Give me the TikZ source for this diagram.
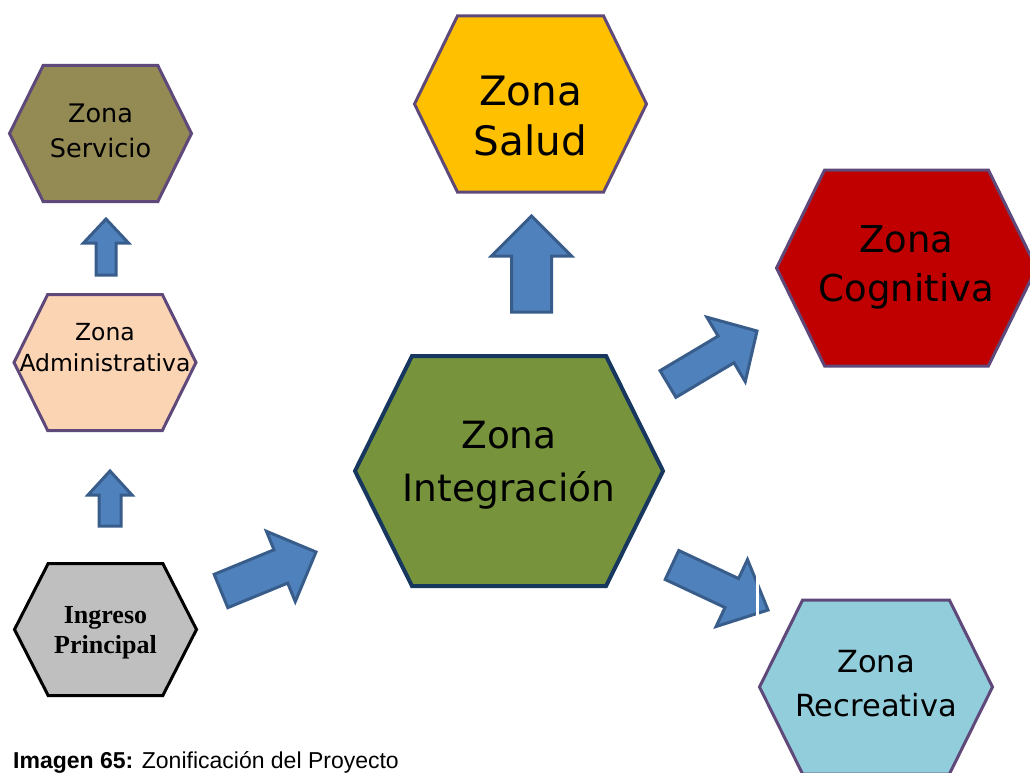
\documentclass[tikz,border=0pt]{standalone}
\usepackage{fontspec}
\setmainfont{Liberation Sans}
\newfontfamily\handfont{DejaVu Sans}
\newfontfamily\serifbold{Liberation Serif}
\usetikzlibrary{calc}
\definecolor{hexpurple}{HTML}{5F497A}
\definecolor{servfill}{HTML}{948A54}
\definecolor{adminfill}{HTML}{FBD4B4}
\definecolor{ingfill}{HTML}{BFBFBF}
\definecolor{saludfill}{HTML}{FFC000}
\definecolor{cogfill}{HTML}{C00000}
\definecolor{recfill}{HTML}{92CDDC}
\definecolor{intfill}{HTML}{77933C}
\definecolor{intborder}{HTML}{17375E}
\definecolor{arrowfill}{HTML}{4F81BD}
\definecolor{arrowborder}{HTML}{385D8A}
\tikzset{
  hexbox/.style={fill=#1, draw=hexpurple, line width=3pt, line join=miter},
  barrow/.style={fill=arrowfill, draw=arrowborder, line width=3pt, line join=miter},
  label/.style={align=center, inner sep=0pt, text=black},
}
\newcommand\hexshape[6]{%
  \path[#6] ({#2-#4},#3) -- ({#2-0.63*#4},{#3-#5}) -- ({#2+0.63*#4},{#3-#5}) -- ({#2+#4},#3)
    -- ({#2+0.63*#4},{#3+#5}) -- ({#2-0.63*#4},{#3+#5}) -- cycle;
  \coordinate (#1) at (#2,#3);}
\newcommand\blockarrow[5]{%
  \coordinate (ba-h) at ($(#2)!#5pt!(#1)$);
  \draw[barrow] ($(#1)!#3pt!90:(#2)$) -- ($(ba-h)!#3pt!90:(#2)$) -- ($(ba-h)!#4pt!90:(#2)$)
    -- (#2) -- ($(ba-h)!#4pt!-90:(#2)$) -- ($(ba-h)!#3pt!-90:(#2)$) -- ($(#1)!#3pt!-90:(#2)$) -- cycle;}
\begin{document}
\begin{tikzpicture}[x=1pt, y=-1pt]
\useasboundingbox (0,0) rectangle (1030,773);
\clip (0,0) rectangle (1030,773);
\fill[white] (0,0) rectangle (1030,773);

% hexagons
\hexshape{hServicio}{100.5}{133.5}{91}{68}{hexbox=servfill}
\hexshape{hAdmin}{105}{362.5}{91}{68}{hexbox=adminfill}
\hexshape{hIngreso}{105.5}{629.5}{91}{66}{hexbox=ingfill, draw=black}
\hexshape{hSalud}{530.5}{104}{116}{88}{hexbox=saludfill}
\hexshape{hCog}{906.5}{268}{130}{98}{hexbox=cogfill}
\hexshape{hRec}{876}{687}{116.5}{87}{hexbox=recfill}
\hexshape{hInt}{509}{471}{154}{115}{hexbox=intfill, draw=intborder, line width=4pt}

% labels
\node[label, font=\handfont\fontsize{25.5}{35}\selectfont] (servicio) at (100.5,131) {Zona\\Servicio};
\node[label, font=\handfont\fontsize{23.5}{31}\selectfont] (admin) at (105,348) {Zona\\Administrativa};
\node[label, font=\serifbold\bfseries\fontsize{26}{30}\selectfont] (ingreso) at (105.5,633) {Ingreso\\Principal};
\node[label, font=\handfont\fontsize{40.5}{50}\selectfont] (salud) at (530.5,116) {Zona\\Salud};
\node[label, font=\handfont\fontsize{37}{49}\selectfont] (cognitiva) at (906.5,267) {Zona\\Cognitiva};
\node[label, font=\handfont\fontsize{30.5}{44}\selectfont] (recreativa) at (876,684) {Zona\\Recreativa};
\node[label, font=\handfont\fontsize{37.5}{53}\selectfont] (integracion) at (509,465) {Zona\\Integración};

% block arrows
\coordinate (a1t) at (106,275); \coordinate (a1p) at (106,219);
\coordinate (a2t) at (110,526); \coordinate (a2p) at (110,471);
\coordinate (a3t) at (531.5,312); \coordinate (a3p) at (531.5,216);
\coordinate (a4t) at (221,591); \coordinate (a4p) at (316,552);
\coordinate (a5t) at (668,384); \coordinate (a5p) at (757,331);
\coordinate (a6t) at (672,565); \coordinate (a6p) at (768,610);
\blockarrow{a1t}{a1p}{10}{22.5}{24}
\blockarrow{a2t}{a2p}{11}{22}{24}
\blockarrow{a3t}{a3p}{20}{40}{40}
\blockarrow{a4t}{a4p}{18}{38}{38}
\blockarrow{a5t}{a5p}{15.5}{37.5}{36}
\blockarrow{a6t}{a6p}{16}{37}{40}
\fill[white] (755.5,576) rectangle (759,634);

% caption
\node[anchor=base west, inner sep=0pt, font=\fontsize{23}{27}\selectfont] (caption) at (13,768) {\textbf{Imagen 65:} Zonificación del Proyecto};
\end{tikzpicture}
\end{document}
